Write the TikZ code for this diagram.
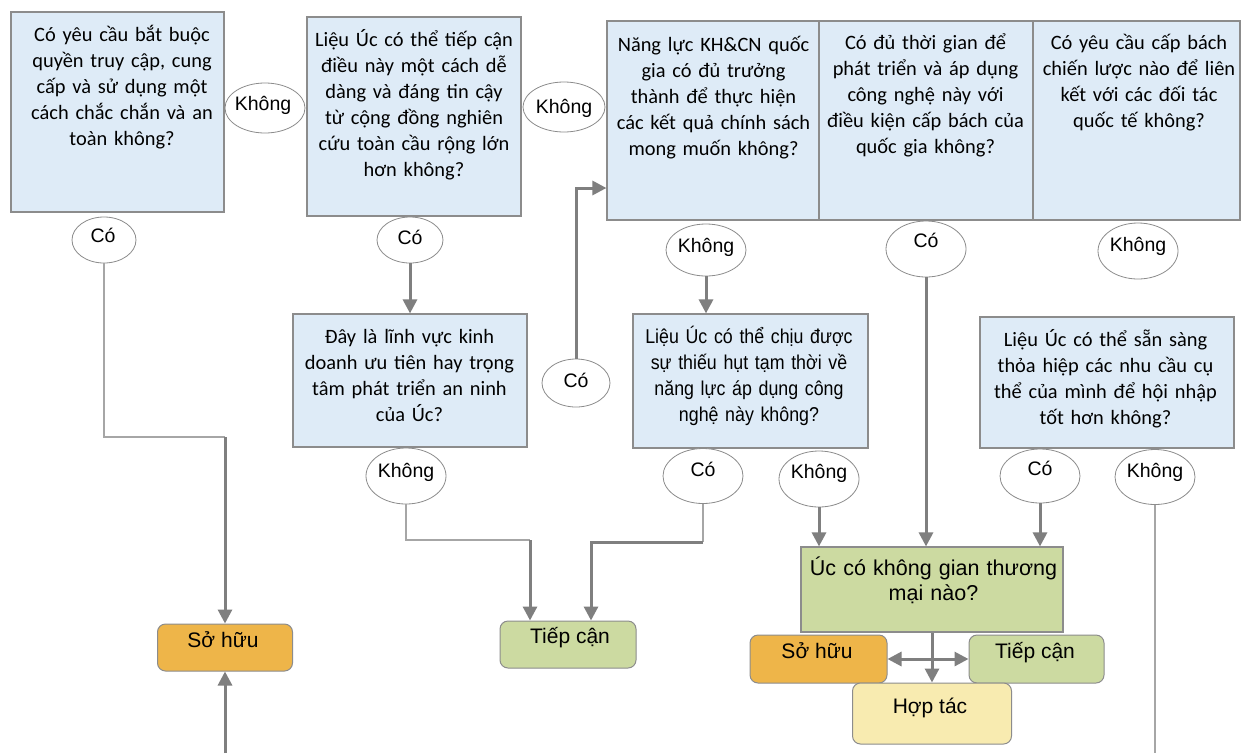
\documentclass[tikz,border=0pt]{standalone}
\usepackage{fontspec}
\setmainfont{Carlito}
\newfontfamily\arial{Liberation Sans}
\newfontfamily\arialn{Liberation Sans}[FakeStretch=0.89]
\usetikzlibrary{shapes.geometric,arrows.meta,calc}
\definecolor{qfill}{HTML}{DEEBF7}
\definecolor{qline}{HTML}{8C8C8C}
\definecolor{arrc}{HTML}{7F7F7F}
\definecolor{thinc}{HTML}{A6A6A6}
\definecolor{ogreen}{HTML}{CCDAA1}
\definecolor{oorange}{HTML}{EEB549}
\definecolor{oyellow}{HTML}{F8EBB0}
\begin{document}
\begin{tikzpicture}[x=1pt,y=-1pt,
  qbox/.style={rectangle,draw=qline,fill=qfill,line width=1.2pt,inner sep=0pt},
  gbox/.style={rectangle,draw=qline,fill=ogreen,line width=1.2pt,inner sep=0pt},
  rbox/.style={rectangle,draw=qline,line width=1pt,rounded corners=8pt,inner sep=0pt},
  oval/.style={ellipse,draw=qline,line width=0.8pt,fill=white,inner sep=0pt},
  ctext/.style={anchor=base,inner sep=0pt,align=center,text width=260pt,font=\fontsize{20.4}{26}\selectfont},
  atext/.style={anchor=base,inner sep=0pt,align=center,text width=260pt,font=\arial\fontsize{21.5}{25}\selectfont},
  ntext/.style={anchor=base,inner sep=0pt,align=center,text width=260pt,font=\arialn\fontsize{20}{26}\selectfont},
  btext/.style={anchor=base,inner sep=0pt,font=\arial\fontsize{21}{25}\selectfont},
  otext/.style={anchor=base,inner sep=0pt,font=\arial\fontsize{19.5}{23}\selectfont},
  arr/.style={draw=arrc,line width=3pt,-{Triangle[length=14pt,width=14pt]}},
  thinln/.style={draw=thinc,line width=1.4pt},
]
\fill[white] (0,0) rectangle (1241,753);
\useasboundingbox (0,0) rectangle (1241,753);

% question boxes
\node[qbox,minimum width=213pt,minimum height=200pt] (boxA) at (117.5,112) {};
\node[ctext] (tA) at (122,41) {Có yêu cầu bắt buộc\\quyền truy cập, cung\\cấp và sử dụng một\\cách chắc chắn và an\\toàn không?};
\node[qbox,minimum width=214pt,minimum height=199pt] (boxB) at (414,116.5) {};
\node[ctext] (tB) at (414,46) {Liệu Úc có thể tiếp cận\\điều này một cách dễ\\dàng và đáng tin cậy\\từ cộng đồng nghiên\\cứu toàn cầu rộng lớn\\hơn không?};
\node[qbox,minimum width=212pt,minimum height=199pt] (boxC) at (713,120.5) {};
\node[ctext] (tC) at (713.5,51) {Năng lực KH\&CN quốc\\gia có đủ trưởng\\thành để thực hiện\\các kết quả chính sách\\mong muốn không?};
\node[qbox,minimum width=214pt,minimum height=199pt] (boxD) at (926,120.5) {};
\node[ctext] (tD) at (925.5,49) {Có đủ thời gian để\\phát triển và áp dụng\\công nghệ này với\\điều kiện cấp bách của\\quốc gia không?};
\node[qbox,minimum width=207pt,minimum height=199pt] (boxE) at (1136.5,120.5) {};
\node[ctext] (tE) at (1139,49) {Có yêu cầu cấp bách\\chiến lược nào để liên\\kết với các đối tác\\quốc tế không?};

\node[qbox,minimum width=234pt,minimum height=133pt] (boxF) at (410,380.5) {};
\node[ctext] (tF) at (409.5,343) {Đây là lĩnh vực kinh\\doanh ưu tiên hay trọng\\tâm phát triển an ninh\\của Úc?};
\node[qbox,minimum width=235pt,minimum height=134pt] (boxG) at (750.5,381) {};
\node[ntext] (tG) at (749,343) {Liệu Úc có thể chịu được\\sự thiếu hụt tạm thời về\\năng lực áp dụng công\\nghệ này không?};
\node[qbox,minimum width=254pt,minimum height=131pt] (boxH) at (1107,382.5) {};
\node[ctext] (tH) at (1105.5,346) {Liệu Úc có thể sẵn sàng\\thỏa hiệp các nhu cầu cụ\\thể của mình để hội nhập\\tốt hơn không?};

\node[gbox,minimum width=262pt,minimum height=85pt] (boxI) at (932,589.5) {};
\node[atext] (tI) at (933.5,575) {Úc có không gian thương\\mại nào?};

% outcome boxes
\node[rbox,fill=oorange,minimum width=135pt,minimum height=47pt] (so1) at (225,647.5) {};
\node[btext] (tso1) at (223,647) {Sở hữu};
\node[rbox,fill=ogreen,minimum width=136pt,minimum height=47pt] (tiep1) at (568,644.5) {};
\node[btext] (ttiep1) at (570,643) {Tiếp cận};
\node[rbox,fill=oorange,minimum width=137pt,minimum height=48pt] (so2) at (818.5,659) {};
\node[btext] (tso2) at (817,658) {Sở hữu};
\node[rbox,fill=ogreen,minimum width=135pt,minimum height=48pt] (tiep2) at (1036.5,659) {};
\node[btext] (ttiep2) at (1035,658) {Tiếp cận};
\node[rbox,fill=oyellow,minimum width=159pt,minimum height=61pt] (hop) at (932,713.5) {};
\node[btext] (thop) at (930,713) {Hợp tác};

% answer ovals
\node[oval,minimum width=80pt,minimum height=50pt] (eAn) at (265,108) {};
\node[otext] (teAn) at (263,110) {Không};
\node[oval,minimum width=64pt,minimum height=46pt] (eAy) at (104,240) {};
\node[otext] (teAy) at (103,242) {Có};
\node[oval,minimum width=66pt,minimum height=46pt] (eBy) at (410,240) {};
\node[otext] (teBy) at (410,244) {Có};
\node[oval,minimum width=82pt,minimum height=50pt] (eBn) at (564,107) {};
\node[otext] (teBn) at (564,113) {Không};
\node[oval,minimum width=80pt,minimum height=52pt] (eCn) at (706,250) {};
\node[otext] (teCn) at (706,252) {Không};
\node[oval,minimum width=80pt,minimum height=56pt] (eDy) at (926,249) {};
\node[otext] (teDy) at (926,247) {Có};
\node[oval,minimum width=80pt,minimum height=56pt] (eEn) at (1138,251) {};
\node[otext] (teEn) at (1138,251) {Không};
\node[oval,minimum width=80pt,minimum height=56pt] (eFn) at (406,476) {};
\node[otext] (teFn) at (406,477) {Không};
\node[oval,minimum width=68pt,minimum height=48pt] (eFy) at (576,383) {};
\node[otext] (teFy) at (576,387) {Có};
\node[oval,minimum width=80pt,minimum height=55pt] (eGy) at (703,476) {};
\node[otext] (teGy) at (703,476) {Có};
\node[oval,minimum width=80pt,minimum height=56pt] (eGn) at (819,479) {};
\node[otext] (teGn) at (819,478) {Không};
\node[oval,minimum width=80pt,minimum height=54pt] (eHy) at (1040,476) {};
\node[otext] (teHy) at (1040,475) {Có};
\node[oval,minimum width=80pt,minimum height=55pt] (eHn) at (1155,477) {};
\node[otext] (teHn) at (1155,477) {Không};

% helper coordinates
\coordinate (c0) at (225,753);
\coordinate (c1) at (225,437);
\coordinate (c2) at (530,540);
\coordinate (c3) at (591,542);
\coordinate (c3a) at (703,542);
\coordinate (y188) at (0,188);
\coordinate (c5) at (1155,753);

% connectors
\draw[thinln] (eAy.south) |- (c1);
\draw[arr] (c1) -- (so1.north);
\draw[arr] (c0) -- (so1.south);
\draw[arr] (eBy.south) -- (boxF.north);
\draw[thinln] (eFn.south) |- (c2);
\draw[arr] (c2) -- (c2 |- tiep1.north);
\draw[thinln] (eGy.south) -- (c3a);
\draw[arr] (c3a) -- (c3) -- (c3 |- tiep1.north);
\draw[arr] (eFy.north) |- (boxC.west |- y188);
\draw[arr] (eCn.south) -- (eCn.south |- boxG.north);
\draw[arr] (eGn.south) -- (eGn.south |- boxI.north);
\draw[arr] (eDy.south) -- (eDy.south |- boxI.north);
\draw[arr] (eHy.south) -- (eHy.south |- boxI.north);
\draw[thinln] (eHn.south) -- (c5);
\draw[arr] (boxI.south) -- (hop.north);
\draw[arr,{Triangle[length=14pt,width=14pt]}-{Triangle[length=14pt,width=14pt]}] (so2.east) -- (tiep2.west);
\end{tikzpicture}
\end{document}
